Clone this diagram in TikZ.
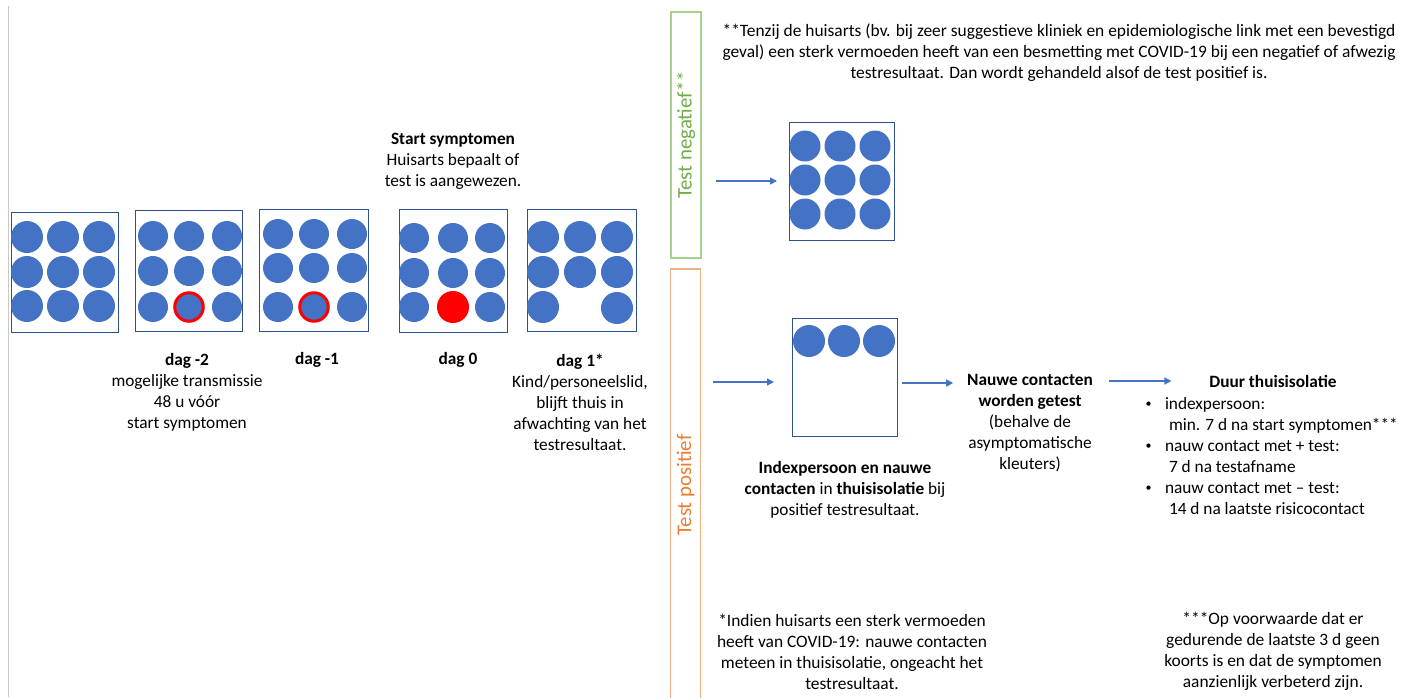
\documentclass[tikz,border=0pt]{standalone}
\usepackage{fontspec}
\setmainfont{Carlito}
\usetikzlibrary{arrows.meta}
\definecolor{dotblue}{HTML}{4472C4}
\definecolor{boxblue}{HTML}{2F528F}
\definecolor{gline}{HTML}{A9D18E}
\definecolor{gtext}{HTML}{70AD47}
\definecolor{oline}{HTML}{F4B183}
\definecolor{otext}{HTML}{ED7D31}
\definecolor{grayline}{HTML}{C8C8C8}
\newcommand{\bul}{\makebox[21pt][l]{\hspace{1.5pt}\raisebox{2pt}{\fontsize{12}{12}\selectfont •}}}
\begin{document}
\begin{tikzpicture}[x=1pt,y=-1pt,
  every node/.style={inner sep=0pt, outer sep=0pt},
  txt/.style={font=\fontsize{17.3}{21}\selectfont, align=center},
  small/.style={font=\fontsize{17.4}{21}\selectfont, align=center},
  pane/.style={draw=boxblue, line width=1pt, rectangle},
  dot/.style={circle, fill=dotblue, minimum size=31pt},
  sdot/.style={circle, fill=dotblue, minimum size=30pt},
  reddot/.style={circle, fill=red, minimum size=32pt},
  ringdot/.style={circle, fill=dotblue, draw=red, line width=3pt, minimum size=28.5pt},
  arr/.style={draw=dotblue, line width=1.3pt, -{Triangle[length=7pt,width=7pt]}},
  vlabel/.style={rotate=90, font=\fontsize{20.8}{24}\selectfont, line width=1.2pt, minimum height=30pt}
]
\useasboundingbox (0,0) rectangle (1402,697);
\fill[white] (0,0) rectangle (1402,697);
\draw[grayline, line width=1pt] (8,6) -- (8,697);

% ---- timeline boxes ----
\node[pane, minimum width=107pt, minimum height=120pt] (b1) at (64.5,272) {};
\foreach \x in {27,63,99} \foreach \y in {237,272,306}
  \node[dot, minimum size=32pt] (b1c\x\y) at (\x,\y) {};

\node[pane, minimum width=107pt, minimum height=121pt] (b2) at (188.5,270.5) {};
\foreach \x/\y in {153/236,189/236,227/236,153/271,189/271,227/271,153/307,227/307}
  \node[sdot] (b2c\x\y) at (\x,\y) {};
\node[ringdot] (b2r) at (189,307) {};

\node[pane, minimum width=109pt, minimum height=122pt] (b3) at (313.5,270) {};
\foreach \x/\y in {278/234,314/234,352/234,278/268,314/268,352/268,278/307,352/307}
  \node[sdot] (b3c\x\y) at (\x,\y) {};
\node[ringdot] (b3r) at (314,307) {};

\node[pane, minimum width=108pt, minimum height=123pt] (b4) at (453,270.5) {};
\foreach \x/\y in {414/238,453/238,490/238,414/273,453/273,490/273,414/307,490/307}
  \node[sdot] (b4c\x\y) at (\x,\y) {};
\node[reddot] (b4r) at (453,307) {};

\node[pane, minimum width=109pt, minimum height=122pt] (b5) at (581.5,270) {};
\foreach \x/\y in {543/237,580/237,617/237,543/272,580/272,617/272,543/307,617/308}
  \node[dot, minimum size=32pt] (b5c\x\y) at (\x,\y) {};

% ---- timeline texts ----
\node[txt] (start) at (453,161.5) {\textbf{Start symptomen}\\Huisarts bepaalt of\\test is aangewezen.};
\node[txt] (d2) at (187,392) {\textbf{dag -2}\\mogelijke transmissie\\48 u vóór\\start symptomen};
\node[txt] (d1) at (317,360) {\textbf{dag -1}};
\node[txt] (d0) at (458,360) {\textbf{dag 0}};
\node[txt] (dp1) at (580,402.5) {\textbf{dag 1*}\\Kind/personeelslid,\\blijft thuis in\\afwachting van het\\testresultaat.};

% ---- branch labels ----
\node[vlabel, draw=gline, text=gtext, minimum width=246pt] (gbox) at (686,135) {Test negatief**};
\node[vlabel, draw=oline, text=otext, minimum width=432pt] (obox) at (685.5,485) {Test positief};

% ---- negative branch ----
\node[pane, minimum width=105pt, minimum height=118pt] (negbox) at (841.5,181) {};
\foreach \x in {805,840,875} \foreach \y in {146,180,214}
  \node[dot] (nc\x\y) at (\x,\y) {};
\draw[arr, shorten <=15pt, shorten >=12pt] (gbox.south |- negbox.west) -- (negbox.west);

% ---- positive branch ----
\node[pane, minimum width=105pt, minimum height=118pt] (posbox) at (844.5,377) {};
\foreach \x in {809,844,879}
  \node[dot, minimum size=32pt] (pc\x) at (\x,341) {};
\path (posbox.west) ++(0,5) coordinate (pin);
\draw[arr, shorten <=12pt] (obox.south |- pin) -- ([xshift=-18pt]pin);

\node[txt] (iso) at (845,489.5) {\textbf{Indexpersoon en nauwe}\\\textbf{contacten} in \textbf{thuisisolatie} bij\\positief testresultaat.};

\node[txt] (nauwe) at (1030,423) {\textbf{Nauwe contacten}\\\textbf{worden getest}\\(behalve de\\asymptomatische\\kleuters)};
\path (posbox.east) ++(0,6) coordinate (pout);
\draw[arr, shorten <=5pt, shorten >=14pt] (pout) -- (nauwe.west |- pout);

\node[txt] (duur) at (1273,381) {\textbf{Duur thuisisolatie}};
\draw[arr, shorten <=16pt, shorten >=38pt] (nauwe.east |- duur.west) -- (duur.west);

\node[txt, align=left, anchor=west] (duurlist) at (1144,456.5) {%
\bul indexpersoon:\\
\hspace*{25pt}min. 7 d na start symptomen***\\
\bul nauw contact met + test:\\
\hspace*{25pt}7 d na testafname\\
\bul nauw contact met – test:\\
\hspace*{25pt}14 d na laatste risicocontact};

% ---- footnotes ----
\node[small] (note2) at (1059,53) {**Tenzij de huisarts (bv. bij zeer suggestieve kliniek en epidemiologische link met een bevestigd\\geval) een sterk vermoeden heeft van een besmetting met COVID-19 bij een negatief of afwezig\\testresultaat. Dan wordt gehandeld alsof de test positief is.};
\node[small] (note1) at (852,651.5) {*Indien huisarts een sterk vermoeden\\heeft van COVID-19: nauwe contacten\\meteen in thuisisolatie, ongeacht het\\testresultaat.};
\node[small] (note3) at (1273,651.5) {***Op voorwaarde dat er\\gedurende de laatste 3 d geen\\koorts is en dat de symptomen\\aanzienlijk verbeterd zijn.};
\end{tikzpicture}
\end{document}
